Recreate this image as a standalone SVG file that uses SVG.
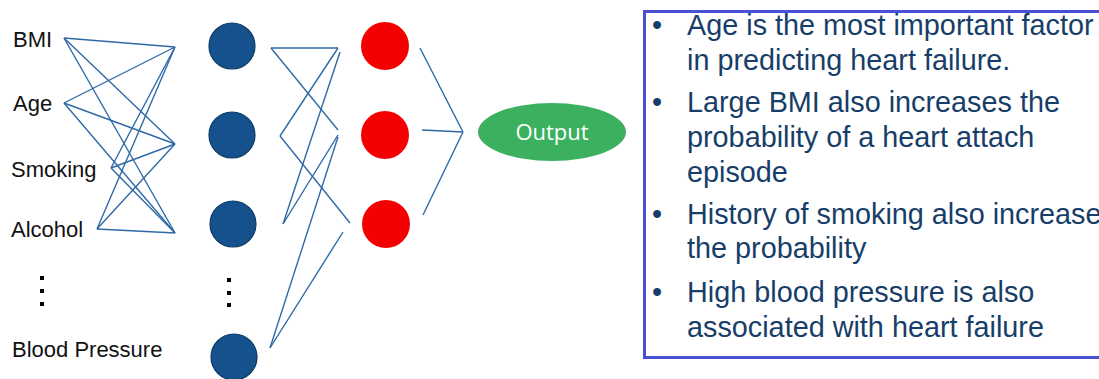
<svg xmlns="http://www.w3.org/2000/svg" width="1099" height="379" viewBox="0 0 1099 379">
<style>
.lbl{font-family:"Liberation Sans",Arial,sans-serif;font-size:22px;fill:#111}
.hid{fill:#15518c;stroke:#0d3a66;stroke-width:1.2}
.red{fill:#f50000}
.c line{stroke:#2f6aa6;stroke-width:1.4;fill:none}
.dot{fill:#000}
.bt{font-family:"Liberation Sans",Arial,sans-serif;font-size:28.8px;fill:#173e68}
</style>
<rect width="1099" height="379" fill="#fff"/>
<g id="connectors" class="c">
<line x1="64" y1="38" x2="175" y2="47"/>
<line x1="64" y1="38" x2="175" y2="144"/>
<line x1="64" y1="38" x2="175" y2="233"/>
<line x1="64" y1="103" x2="175" y2="47"/>
<line x1="64" y1="103" x2="175" y2="144"/>
<line x1="64" y1="103" x2="175" y2="233"/>
<line x1="111" y1="168" x2="175" y2="47"/>
<line x1="111" y1="168" x2="175" y2="144"/>
<line x1="111" y1="168" x2="175" y2="233"/>
<line x1="97" y1="229" x2="175" y2="47"/>
<line x1="97" y1="229" x2="175" y2="144"/>
<line x1="97" y1="229" x2="175" y2="233"/>
<line x1="271" y1="48" x2="338" y2="48"/>
<line x1="271" y1="48" x2="338" y2="130"/>
<line x1="280" y1="136" x2="338" y2="48"/>
<line x1="280" y1="136" x2="350" y2="223"/>
<line x1="283" y1="224" x2="340" y2="52"/>
<line x1="283" y1="224" x2="338" y2="135"/>
<line x1="270" y1="348" x2="338" y2="137"/>
<line x1="270" y1="348" x2="343" y2="232"/>
<line x1="420" y1="48" x2="463" y2="132"/>
<line x1="422" y1="130" x2="463" y2="132"/>
<line x1="423" y1="215" x2="463" y2="132"/>
</g>
<g id="in-bmi"><text class="lbl" x="13" y="47">BMI</text></g>
<g id="in-age"><text class="lbl" x="13" y="111">Age</text></g>
<g id="in-smoking"><text class="lbl" x="11" y="177">Smoking</text></g>
<g id="in-alcohol"><text class="lbl" x="11" y="237">Alcohol</text></g>
<g id="in-dots"><rect class="dot" x="40" y="276" width="4" height="4"/><rect class="dot" x="40" y="289" width="4" height="4"/><rect class="dot" x="40" y="302" width="4" height="4"/></g>
<g id="in-bp"><text class="lbl" x="12" y="357">Blood Pressure</text></g>
<g id="h1"><circle class="hid" cx="232" cy="46" r="23"/></g>
<g id="h2"><circle class="hid" cx="232" cy="135" r="23"/></g>
<g id="h3"><circle class="hid" cx="233" cy="224" r="23"/></g>
<g id="h-dots"><rect class="dot" x="227" y="278" width="4" height="4"/><rect class="dot" x="227" y="291" width="4" height="4"/><rect class="dot" x="227" y="303" width="4" height="4"/></g>
<g id="h4"><circle class="hid" cx="234" cy="357" r="23"/></g>
<g id="r1"><circle class="red" cx="385" cy="46" r="24"/></g>
<g id="r2"><circle class="red" cx="385" cy="135" r="24"/></g>
<g id="r3"><circle class="red" cx="386" cy="224" r="24"/></g>
<g id="output"><ellipse cx="552" cy="132" rx="74" ry="29" fill="#3bb15f"/><text x="552" y="140" text-anchor="middle" font-family="'Open Sans','Noto Sans',sans-serif" font-size="22" fill="#fff">Output</text></g>
<g id="notes">
<rect x="644.5" y="11.5" width="470" height="346" fill="#fff" stroke="#4a50d4" stroke-width="3"/>
<g class="bt">
<text x="652" y="35">•</text><text x="687" y="35">Age is the most important factor</text>
<text x="687" y="70">in predicting heart failure.</text>
<text x="652" y="112">•</text><text x="687" y="112">Large BMI also increases the</text>
<text x="687" y="147">probability of a heart attach</text>
<text x="687" y="182">episode</text>
<text x="652" y="224">•</text><text x="687" y="224">History of smoking also increase</text>
<text x="687" y="258">the probability</text>
<text x="652" y="302">•</text><text x="687" y="302">High blood pressure is also</text>
<text x="687" y="337">associated with heart failure</text>
</g>
</g>
</svg>
